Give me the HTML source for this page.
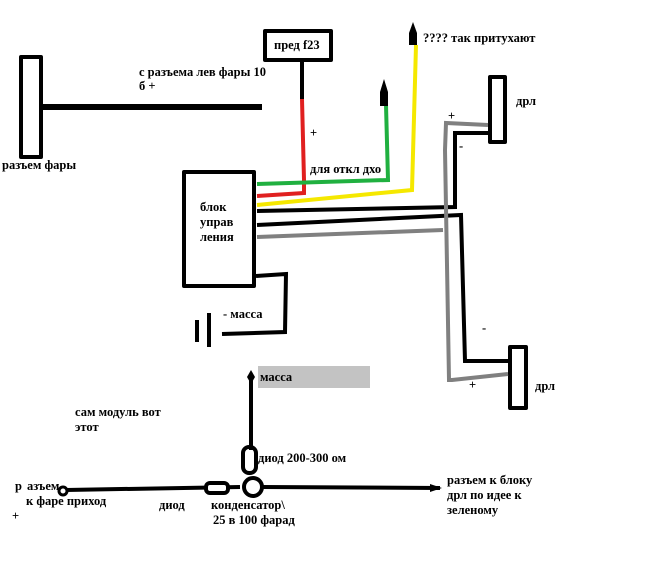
<!DOCTYPE html>
<html><head><meta charset="utf-8"><style>
body{margin:0;background:#fff}
svg text{font-family:"Liberation Serif","Noto Serif CJK SC",serif;font-weight:bold;font-size:12.5px;fill:#000}
</style></head><body>
<svg width="660" height="560" viewBox="0 0 660 560" xmlns="http://www.w3.org/2000/svg">
<rect width="660" height="560" fill="#fff"/>
<g fill="none" stroke="#000" stroke-width="4" stroke-linecap="round" stroke-linejoin="round">
<rect x="21" y="57" width="20" height="100"/>
<rect x="265" y="31" width="66" height="29"/>
<rect x="184" y="172" width="70" height="114"/>
<rect x="490" y="77" width="15" height="65"/>
<rect x="510" y="347" width="16" height="61"/>
</g>
<path d="M41 107 L262 107" stroke="#000" stroke-width="6"/>
<path d="M302 60 L302 99" stroke="#000" stroke-width="4"/>
<path d="M302 99 L304 180 L304 193 L257 196" fill="none" stroke="#e02020" stroke-width="4"/>
<path d="M257 184 L388 180 L386 105" fill="none" stroke="#20b040" stroke-width="4"/>
<path d="M384 79 L380 92 L380 106 L388 106 L388 92 Z" fill="#000"/>
<path d="M257 205 L412 190 L416 45" fill="none" stroke="#f5e800" stroke-width="4"/>
<path d="M413 22 L409 33 L409 45 L417 45 L417 33 Z" fill="#000"/>
<path d="M257 211 L455 207 L455 133 L488 133" fill="none" stroke="#000" stroke-width="4"/>
<path d="M257 225 L461 215 L465 361 L508 361" fill="none" stroke="#000" stroke-width="4"/>
<path d="M257 237 L443 230" fill="none" stroke="#808080" stroke-width="4"/>
<path d="M488 125 L446 123 L445 150 L449 380 L452 380 L508 374" fill="none" stroke="#808080" stroke-width="4"/>
<path d="M222 334 L285 332 L286 274 L256 276" fill="none" stroke="#000" stroke-width="4"/>
<path d="M197 320 L197 342 M209 313 L209 347" stroke="#000" stroke-width="4"/>
<rect x="258" y="366" width="112" height="22" fill="#c3c3c3"/>
<path d="M251 376 L251 450" stroke="#000" stroke-width="4"/>
<path d="M251 370 L247 377 L251 384 L255 377 Z" fill="#000"/>
<rect x="243" y="447" width="13" height="26" rx="6" fill="none" stroke="#000" stroke-width="4"/>
<path d="M66 490 L240 487 M262 487 L440 488" stroke="#000" stroke-width="4"/>
<circle cx="63" cy="491" r="4" fill="#fff" stroke="#000" stroke-width="3"/>
<rect x="206" y="483" width="22" height="10" rx="4" fill="#fff" stroke="#000" stroke-width="4"/>
<circle cx="253" cy="487" r="9" fill="#fff" stroke="#000" stroke-width="4"/>
<path d="M430 484 L442 488 L430 492 Z" fill="#000"/>
<text x="274" y="49">пред f23</text>
<text x="139" y="76">с разъема лев фары 10</text>
<text x="139" y="90">б +</text>
<text x="2" y="169">разъем фары</text>
<text x="310" y="137" font-weight="normal">+</text>
<text x="310" y="173">для откл дхо</text>
<text x="423" y="42">???? так притухают</text>
<text x="200" y="211">блок</text>
<text x="200" y="226">управ</text>
<text x="200" y="241">ления</text>
<text x="516" y="105">дрл</text>
<text x="448" y="120" font-weight="normal">+</text>
<text x="459" y="150" font-weight="normal">-</text>
<text x="482" y="332" font-weight="normal">-</text>
<text x="469" y="389" font-weight="normal">+</text>
<text x="535" y="390">дрл</text>
<text x="223" y="318">- масса</text>
<text x="260" y="381">масса</text>
<text x="75" y="416">сам модуль вот</text>
<text x="75" y="431">этот</text>
<text x="258" y="462">диод 200-300 ом</text>
<text x="15" y="490">р</text>
<text x="27" y="490">азъем</text>
<text x="26" y="505">к фаре приход</text>
<text x="12" y="520" font-weight="normal">+</text>
<text x="159" y="509">диод</text>
<text x="211" y="509">конденсатор\</text>
<text x="213" y="524">25 в 100 фарад</text>
<text x="447" y="484">разъем к блоку</text>
<text x="447" y="499">дрл по идее к</text>
<text x="447" y="514">зеленому</text>
</svg>
</body></html>
